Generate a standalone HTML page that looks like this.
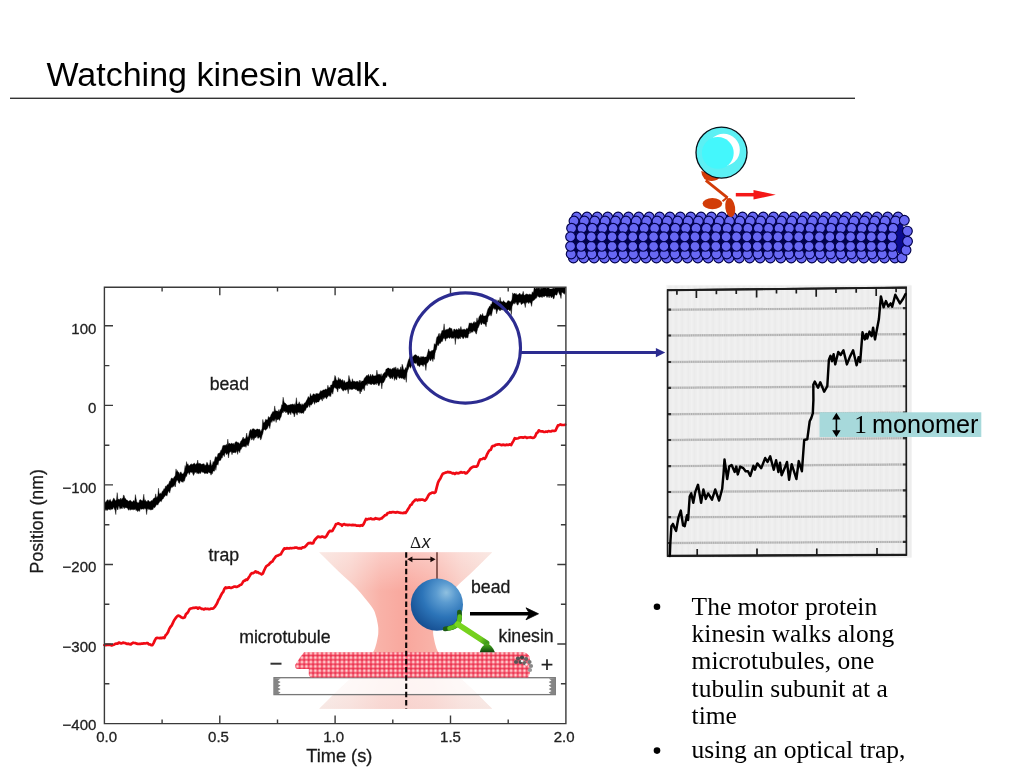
<!DOCTYPE html>
<html><head><meta charset="utf-8"><title>Watching kinesin walk.</title>
<style>
html,body{margin:0;padding:0;background:#fff;width:1024px;height:768px;overflow:hidden}
svg{position:absolute;left:0;top:0;display:block;will-change:transform;transform:translateZ(0)}
text{font-family:"Liberation Sans",sans-serif}
.ser{font-family:"Liberation Serif",serif}
.ax{font-size:15px;fill:#222;stroke:#222;stroke-width:0.3px}
.lb{font-size:17.7px;fill:#1a1a1a;stroke:#1a1a1a;stroke-width:0.3px}
</style></head><body>
<svg width="1024" height="768" viewBox="0 0 1024 768">
<defs>
<clipPath id="plot"><rect x="104.4" y="287.3" width="461.6" height="436.4"/></clipPath>
</defs>
<text x="46.5" y="86" font-size="34" fill="#000">Watching kinesin walk.</text>
<rect x="10" y="97.6" width="845" height="1.4" fill="#333"/>
<g id="chart">
<defs>
<linearGradient id="trapH" x1="319" x2="493.4" y1="0" y2="0" gradientUnits="userSpaceOnUse">
<stop offset="0" stop-color="#f7ddd6"/><stop offset="0.18" stop-color="#f9cdc5"/><stop offset="0.35" stop-color="#f9b2a8"/><stop offset="0.5" stop-color="#f9a79d"/><stop offset="0.65" stop-color="#f9b2a8"/><stop offset="0.82" stop-color="#f9cdc5"/><stop offset="1" stop-color="#f7ddd6"/></linearGradient>
<linearGradient id="trapV" x1="0" x2="0" y1="552" y2="709" gradientUnits="userSpaceOnUse">
<stop offset="0" stop-color="#fff" stop-opacity="0.35"/><stop offset="0.25" stop-color="#fff" stop-opacity="0"/><stop offset="0.75" stop-color="#fff" stop-opacity="0"/><stop offset="0.8" stop-color="#fff" stop-opacity="0.55"/><stop offset="1" stop-color="#f6eeec" stop-opacity="0.62"/></linearGradient>
<radialGradient id="beadG" cx="0.66" cy="0.3" r="0.75" fx="0.68" fy="0.27">
<stop offset="0" stop-color="#8fc0e0"/><stop offset="0.25" stop-color="#5b9bd0"/><stop offset="0.6" stop-color="#2c74b8"/><stop offset="1" stop-color="#164f92"/></radialGradient>
<radialGradient id="mtb" cx="0.5" cy="0.42" r="0.6">
<stop offset="0" stop-color="#fff4f2"/><stop offset="0.3" stop-color="#fdb9bd"/><stop offset="0.7" stop-color="#f4566c"/><stop offset="1" stop-color="#e8304e"/></radialGradient>
<pattern id="mtp" x="295.3" y="651.6" width="4.45" height="4.35" patternUnits="userSpaceOnUse">
<rect width="4.45" height="4.35" fill="#e8304e"/><circle cx="2.22" cy="2.1" r="2.35" fill="url(#mtb)"/></pattern>
<pattern id="mtp2" x="297.5" y="651.6" width="4.45" height="4.35" patternUnits="userSpaceOnUse">
<rect width="4.45" height="4.35" fill="#ec3a55"/><circle cx="2.22" cy="2.1" r="2.3" fill="url(#mtb)"/></pattern>
<linearGradient id="kin" x1="458" y1="624" x2="486" y2="643" gradientUnits="userSpaceOnUse"><stop offset="0" stop-color="#7ad61e"/><stop offset="0.8" stop-color="#72ce1e"/><stop offset="1" stop-color="#3f9a1a"/></linearGradient>
<linearGradient id="foot" x1="0" x2="0" y1="643" y2="652.4" gradientUnits="userSpaceOnUse"><stop offset="0" stop-color="#55b51c"/><stop offset="0.5" stop-color="#2e8418"/><stop offset="1" stop-color="#0f3d0c"/></linearGradient>
</defs>
<path d="M319.2,552.2 L321.2,554.2 L323.3,556.2 L325.3,558.2 L327.3,560.2 L329.3,562.2 L331.3,564.2 L333.3,566.2 L335.4,568.2 L337.4,570.2 L339.5,572.2 L341.6,574.2 L343.8,576.2 L346.0,578.2 L348.2,580.2 L350.4,582.2 L352.5,584.2 L354.5,586.2 L356.4,588.2 L358.2,590.2 L360.0,592.2 L361.7,594.2 L363.3,596.2 L364.9,598.2 L366.6,600.2 L368.2,602.2 L369.8,604.2 L371.3,606.2 L372.7,608.2 L373.9,610.2 L374.8,612.2 L375.4,614.2 L376.0,616.2 L376.6,618.2 L377.0,620.2 L377.4,622.2 L377.8,624.2 L378.1,626.2 L378.3,628.2 L378.3,630.2 L378.3,632.2 L378.2,634.2 L377.9,636.2 L377.5,638.2 L377.1,640.2 L376.7,642.2 L376.2,644.2 L375.6,646.2 L375.0,648.2 L374.2,650.2 L373.1,652.2 L371.7,654.2 L370.3,656.2 L368.7,658.2 L367.0,660.2 L365.4,662.2 L363.8,664.2 L362.2,666.2 L360.5,668.2 L358.8,670.2 L357.0,672.2 L355.1,674.2 L353.1,676.2 L351.0,678.2 L348.9,680.2 L346.7,682.2 L344.5,684.2 L342.3,686.2 L340.1,688.2 L338.1,690.2 L336.0,692.2 L334.0,694.2 L331.9,696.2 L329.9,698.2 L327.9,700.2 L325.9,702.2 L323.9,704.2 L321.8,706.2 L319.8,708.2 L319.2,708.8 L492.2,708.8 L491.6,708.2 L489.6,706.2 L487.5,704.2 L485.5,702.2 L483.5,700.2 L481.5,698.2 L479.5,696.2 L477.4,694.2 L475.4,692.2 L473.3,690.2 L471.3,688.2 L469.1,686.2 L466.9,684.2 L464.7,682.2 L462.5,680.2 L460.4,678.2 L458.3,676.2 L456.3,674.2 L454.4,672.2 L452.6,670.2 L450.9,668.2 L449.2,666.2 L447.6,664.2 L446.0,662.2 L444.4,660.2 L442.7,658.2 L441.1,656.2 L439.7,654.2 L438.3,652.2 L437.2,650.2 L436.4,648.2 L435.8,646.2 L435.2,644.2 L434.7,642.2 L434.3,640.2 L433.9,638.2 L433.5,636.2 L433.2,634.2 L433.1,632.2 L433.1,630.2 L433.1,628.2 L433.3,626.2 L433.6,624.2 L434.0,622.2 L434.4,620.2 L434.8,618.2 L435.4,616.2 L436.0,614.2 L436.6,612.2 L437.5,610.2 L438.7,608.2 L440.1,606.2 L441.6,604.2 L443.2,602.2 L444.8,600.2 L446.5,598.2 L448.1,596.2 L449.7,594.2 L451.4,592.2 L453.2,590.2 L455.0,588.2 L456.9,586.2 L458.9,584.2 L461.0,582.2 L463.2,580.2 L465.4,578.2 L467.6,576.2 L469.8,574.2 L471.9,572.2 L474.0,570.2 L476.0,568.2 L478.1,566.2 L480.1,564.2 L482.1,562.2 L484.1,560.2 L486.1,558.2 L488.1,556.2 L490.2,554.2 L492.2,552.2Z" fill="url(#trapH)"/><path d="M319.2,552.2 L321.2,554.2 L323.3,556.2 L325.3,558.2 L327.3,560.2 L329.3,562.2 L331.3,564.2 L333.3,566.2 L335.4,568.2 L337.4,570.2 L339.5,572.2 L341.6,574.2 L343.8,576.2 L346.0,578.2 L348.2,580.2 L350.4,582.2 L352.5,584.2 L354.5,586.2 L356.4,588.2 L358.2,590.2 L360.0,592.2 L361.7,594.2 L363.3,596.2 L364.9,598.2 L366.6,600.2 L368.2,602.2 L369.8,604.2 L371.3,606.2 L372.7,608.2 L373.9,610.2 L374.8,612.2 L375.4,614.2 L376.0,616.2 L376.6,618.2 L377.0,620.2 L377.4,622.2 L377.8,624.2 L378.1,626.2 L378.3,628.2 L378.3,630.2 L378.3,632.2 L378.2,634.2 L377.9,636.2 L377.5,638.2 L377.1,640.2 L376.7,642.2 L376.2,644.2 L375.6,646.2 L375.0,648.2 L374.2,650.2 L373.1,652.2 L371.7,654.2 L370.3,656.2 L368.7,658.2 L367.0,660.2 L365.4,662.2 L363.8,664.2 L362.2,666.2 L360.5,668.2 L358.8,670.2 L357.0,672.2 L355.1,674.2 L353.1,676.2 L351.0,678.2 L348.9,680.2 L346.7,682.2 L344.5,684.2 L342.3,686.2 L340.1,688.2 L338.1,690.2 L336.0,692.2 L334.0,694.2 L331.9,696.2 L329.9,698.2 L327.9,700.2 L325.9,702.2 L323.9,704.2 L321.8,706.2 L319.8,708.2 L319.2,708.8 L492.2,708.8 L491.6,708.2 L489.6,706.2 L487.5,704.2 L485.5,702.2 L483.5,700.2 L481.5,698.2 L479.5,696.2 L477.4,694.2 L475.4,692.2 L473.3,690.2 L471.3,688.2 L469.1,686.2 L466.9,684.2 L464.7,682.2 L462.5,680.2 L460.4,678.2 L458.3,676.2 L456.3,674.2 L454.4,672.2 L452.6,670.2 L450.9,668.2 L449.2,666.2 L447.6,664.2 L446.0,662.2 L444.4,660.2 L442.7,658.2 L441.1,656.2 L439.7,654.2 L438.3,652.2 L437.2,650.2 L436.4,648.2 L435.8,646.2 L435.2,644.2 L434.7,642.2 L434.3,640.2 L433.9,638.2 L433.5,636.2 L433.2,634.2 L433.1,632.2 L433.1,630.2 L433.1,628.2 L433.3,626.2 L433.6,624.2 L434.0,622.2 L434.4,620.2 L434.8,618.2 L435.4,616.2 L436.0,614.2 L436.6,612.2 L437.5,610.2 L438.7,608.2 L440.1,606.2 L441.6,604.2 L443.2,602.2 L444.8,600.2 L446.5,598.2 L448.1,596.2 L449.7,594.2 L451.4,592.2 L453.2,590.2 L455.0,588.2 L456.9,586.2 L458.9,584.2 L461.0,582.2 L463.2,580.2 L465.4,578.2 L467.6,576.2 L469.8,574.2 L471.9,572.2 L474.0,570.2 L476.0,568.2 L478.1,566.2 L480.1,564.2 L482.1,562.2 L484.1,560.2 L486.1,558.2 L488.1,556.2 L490.2,554.2 L492.2,552.2Z" fill="url(#trapV)"/>
<rect x="274" y="677.7" width="281.3" height="16.9" fill="#fff" fill-opacity="0.72" stroke="#777" stroke-width="1.3"/>
<path d="M274,678 L280.6,678.6 L277.8,680.4 L280.6,682.1 L277.8,683.9 L280.6,685.6 L277.8,687.4 L280.6,689.1 L277.8,690.9 L280.6,692.6 L277.8,694.4 L274,694.4Z M555.3,678 L548.7,678.6 L551.5,680.4 L548.7,682.1 L551.5,683.9 L548.7,685.6 L551.5,687.4 L548.7,689.1 L551.5,690.9 L548.7,692.6 L551.5,694.4 L555.3,694.4Z" fill="#858585"/>
<g><path d="M304,652.2 H524 q4,1 6,5 v8.4 q1,8 -2,12 H311 q-2.5,-1 -2.2,-4 V669 H297 q-2.6,-1 -1.6,-4.5 L300,657.4 Z" fill="url(#mtp)"/></g>
<circle cx="518" cy="658.5" r="2.1" fill="#555"/><circle cx="522" cy="657.5" r="2.1" fill="#444"/><circle cx="526" cy="659" r="2.1" fill="#666"/><circle cx="529.5" cy="662" r="2.1" fill="#777"/><circle cx="531" cy="666" r="2.1" fill="#888"/><circle cx="530" cy="670" r="2.1" fill="#999"/><circle cx="520.5" cy="662" r="2.1" fill="#4a4a4a"/><circle cx="524.5" cy="663" r="2.1" fill="#666"/><circle cx="516" cy="662" r="2.1" fill="#555"/><circle cx="522" cy="661" r="1.3" fill="#e8e8e8"/><circle cx="526.5" cy="664.5" r="1.2" fill="#f2f2f2"/>
<path d="M406.2,552.3 V708.6" stroke="#0a0505" stroke-width="2.1" stroke-dasharray="5.5 2.7" fill="none"/>
<path d="M437,552.3 V579" stroke="#6b3b35" stroke-width="1.5" fill="none"/>
<path d="M409,559.3 H433.5" stroke="#2a1210" stroke-width="1.3" fill="none"/><path d="M407.2,559.3 l5.2,-2.9 v5.8z M435.6,559.3 l-5.2,-2.9 v5.8z" fill="#1a0a08"/>
<text x="409.9" y="548.4" font-size="17.4" fill="#1a1a1a"><tspan class="ser">Δ</tspan><tspan dx="0.6" font-style="italic" font-size="17.6">x</tspan></text>
<circle cx="436.9" cy="604.6" r="26.1" fill="url(#beadG)"/>
<path d="M445.2,628.9 Q454,628 457.9,623.8 Q460.3,619 459.4,612.2" fill="none" stroke="#1c5a14" stroke-width="4.8" stroke-linecap="round"/><path d="M449.5,628.2 Q455,627 457.9,623.8 Q459.8,620 459.7,616.5" fill="none" stroke="#5cc01c" stroke-width="4.6" stroke-linecap="round"/><path d="M457.6,624.2 L486.6,643.2" stroke="url(#kin)" stroke-width="5.6" stroke-linecap="round" fill="none"/><path d="M479.8,652.3 Q481,645.5 487.2,643.2 Q492.5,645.5 494.9,652.3 Z" fill="url(#foot)"/>
<path d="M470,613.8 H531" stroke="#000" stroke-width="3.6" fill="none"/><path d="M538.5,613.8 L526,607.8 L529.6,613.8 L526,619.8Z" fill="#000" stroke="#000" stroke-width="0.8" stroke-linejoin="round"/>
<path d="M270.5,663.7 H281.5" stroke="#333" stroke-width="2"/><path d="M541.6,664.7 H552.4 M547,659.3 V670.1" stroke="#222" stroke-width="1.7"/>
<text class="lb" x="239.2" y="643.3">microtubule</text><text class="lb" x="471" y="592.8">bead</text><text class="lb" x="498.6" y="642">kinesin</text>
<g clip-path="url(#plot)"><path d="M104.6,500.6 L105.3,502.6 L106.0,501.7 L106.7,500.7 L107.4,499.8 L108.1,499.7 L108.8,501.4 L109.5,499.9 L110.2,499.3 L110.9,500.9 L111.6,501.9 L112.3,500.9 L113.0,499.4 L113.7,498.0 L114.4,498.7 L115.1,500.4 L115.8,500.7 L116.5,499.4 L117.2,492.6 L117.9,499.8 L118.6,499.1 L119.3,499.2 L120.0,499.7 L120.7,498.1 L121.4,500.0 L122.1,497.9 L122.8,498.9 L123.5,494.9 L124.2,495.7 L124.9,498.6 L125.6,498.6 L126.3,500.0 L127.0,500.1 L127.7,500.5 L128.4,501.2 L129.1,500.9 L129.8,500.4 L130.5,500.3 L131.2,501.2 L131.9,501.7 L132.6,502.0 L133.3,500.8 L134.0,500.4 L134.7,501.8 L135.4,494.6 L136.1,498.7 L136.8,501.9 L137.5,502.8 L138.2,502.4 L138.9,503.1 L139.6,499.9 L140.3,499.7 L141.0,499.8 L141.7,500.8 L142.4,501.0 L143.1,499.3 L143.8,494.2 L144.5,500.9 L145.2,499.7 L145.9,501.3 L146.6,501.6 L147.3,501.4 L148.0,500.1 L148.7,500.7 L149.4,501.4 L150.1,502.1 L150.8,500.9 L151.5,500.6 L152.2,500.8 L152.9,499.6 L153.6,498.5 L154.3,497.8 L155.0,498.2 L155.7,493.8 L156.4,497.4 L157.1,497.2 L157.8,495.8 L158.5,488.2 L159.2,494.2 L159.9,493.4 L160.6,493.2 L161.3,493.7 L162.0,491.9 L162.7,490.8 L163.4,490.2 L164.1,488.4 L164.8,489.3 L165.5,486.0 L166.2,486.6 L166.9,485.4 L167.6,484.5 L168.3,484.4 L169.0,483.1 L169.7,480.9 L170.4,481.2 L171.1,478.5 L171.8,478.0 L172.5,478.4 L173.2,478.4 L173.9,477.4 L174.6,476.6 L175.3,475.3 L176.0,468.9 L176.7,471.8 L177.4,470.5 L178.1,472.6 L178.8,472.1 L179.5,474.4 L180.2,472.5 L180.9,471.8 L181.6,473.2 L182.3,474.1 L183.0,473.8 L183.7,473.1 L184.4,471.1 L185.1,465.5 L185.8,468.3 L186.5,461.6 L187.2,464.6 L187.9,463.7 L188.6,465.4 L189.3,465.7 L190.0,464.9 L190.7,464.3 L191.4,463.7 L192.1,464.9 L192.8,464.0 L193.5,463.8 L194.2,463.2 L194.9,463.4 L195.6,464.9 L196.3,463.6 L197.0,463.9 L197.7,460.0 L198.4,464.1 L199.1,463.1 L199.8,463.7 L200.5,463.5 L201.2,464.3 L201.9,464.3 L202.6,464.0 L203.3,464.0 L204.0,463.6 L204.7,465.3 L205.4,465.2 L206.1,464.9 L206.8,462.2 L207.5,462.8 L208.2,465.1 L208.9,465.2 L209.6,465.0 L210.3,459.9 L211.0,463.4 L211.7,466.0 L212.4,464.6 L213.1,461.4 L213.8,462.4 L214.5,460.2 L215.2,457.2 L215.9,456.4 L216.6,457.4 L217.3,456.4 L218.0,453.4 L218.7,453.6 L219.4,452.9 L220.1,452.5 L220.8,450.3 L221.5,450.3 L222.2,448.0 L222.9,445.6 L223.6,445.4 L224.3,445.3 L225.0,445.2 L225.7,445.2 L226.4,444.3 L227.1,445.8 L227.8,439.1 L228.5,444.6 L229.2,443.0 L229.9,443.8 L230.6,444.1 L231.3,443.2 L232.0,443.2 L232.7,444.1 L233.4,443.3 L234.1,444.8 L234.8,443.1 L235.5,441.9 L236.2,441.4 L236.9,442.1 L237.6,442.4 L238.3,442.4 L239.0,443.3 L239.7,444.0 L240.4,441.9 L241.1,440.7 L241.8,440.2 L242.5,438.6 L243.2,437.0 L243.9,438.9 L244.6,438.7 L245.3,438.7 L246.0,437.1 L246.7,433.0 L247.4,437.2 L248.1,437.2 L248.8,435.3 L249.5,431.5 L250.2,430.0 L250.9,429.3 L251.6,430.9 L252.3,428.8 L253.0,429.2 L253.7,428.5 L254.4,429.3 L255.1,429.7 L255.8,429.9 L256.5,429.3 L257.2,428.9 L257.9,429.1 L258.6,429.5 L259.3,429.3 L260.0,429.6 L260.7,431.7 L261.4,430.6 L262.1,428.3 L262.8,419.4 L263.5,422.9 L264.2,422.6 L264.9,421.7 L265.6,419.3 L266.3,419.8 L267.0,419.8 L267.7,419.7 L268.4,416.4 L269.1,417.6 L269.8,417.5 L270.5,416.2 L271.2,414.2 L271.9,413.6 L272.6,411.7 L273.3,411.6 L274.0,411.9 L274.7,405.9 L275.4,410.2 L276.1,410.9 L276.8,411.0 L277.5,411.0 L278.2,411.7 L278.9,409.5 L279.6,412.0 L280.3,409.2 L281.0,408.4 L281.7,404.7 L282.4,404.7 L283.1,397.2 L283.8,401.0 L284.5,403.1 L285.2,403.1 L285.9,403.8 L286.6,404.5 L287.3,405.2 L288.0,405.2 L288.7,405.0 L289.4,405.0 L290.1,404.4 L290.8,404.5 L291.5,404.6 L292.2,404.1 L292.9,404.2 L293.6,404.7 L294.3,403.7 L295.0,405.4 L295.7,403.4 L296.4,397.7 L297.1,404.0 L297.8,404.1 L298.5,403.8 L299.2,401.7 L299.9,403.7 L300.6,404.1 L301.3,405.5 L302.0,403.6 L302.7,404.8 L303.4,404.7 L304.1,403.4 L304.8,402.7 L305.5,402.5 L306.2,401.1 L306.9,399.8 L307.6,398.3 L308.3,396.4 L309.0,397.4 L309.7,398.0 L310.4,393.5 L311.1,395.7 L311.8,396.1 L312.5,395.2 L313.2,393.8 L313.9,394.0 L314.6,394.3 L315.3,394.9 L316.0,393.3 L316.7,393.7 L317.4,393.4 L318.1,394.1 L318.8,393.7 L319.5,392.9 L320.2,391.4 L320.9,390.4 L321.6,391.3 L322.3,390.9 L323.0,389.7 L323.7,390.1 L324.4,390.0 L325.1,389.3 L325.8,388.9 L326.5,389.4 L327.2,389.0 L327.9,385.2 L328.6,388.3 L329.3,386.9 L330.0,388.2 L330.7,385.1 L331.4,385.1 L332.1,384.4 L332.8,381.2 L333.5,381.1 L334.2,380.2 L334.9,375.4 L335.6,376.7 L336.3,380.2 L337.0,379.9 L337.7,381.0 L338.4,377.4 L339.1,380.2 L339.8,378.6 L340.5,379.1 L341.2,380.8 L341.9,380.1 L342.6,379.6 L343.3,382.4 L344.0,380.3 L344.7,381.1 L345.4,382.9 L346.1,382.2 L346.8,381.9 L347.5,382.1 L348.2,380.9 L348.9,375.4 L349.6,378.4 L350.3,380.6 L351.0,382.1 L351.7,381.9 L352.4,378.7 L353.1,381.3 L353.8,381.3 L354.5,381.3 L355.2,381.4 L355.9,382.1 L356.6,381.3 L357.3,381.4 L358.0,381.3 L358.7,382.8 L359.4,380.1 L360.1,383.1 L360.8,380.4 L361.5,382.0 L362.2,381.1 L362.9,381.0 L363.6,380.2 L364.3,378.3 L365.0,377.5 L365.7,376.8 L366.4,375.8 L367.1,375.1 L367.8,376.2 L368.5,374.2 L369.2,376.3 L369.9,376.5 L370.6,374.1 L371.3,376.4 L372.0,375.4 L372.7,374.3 L373.4,376.0 L374.1,376.1 L374.8,375.8 L375.5,375.7 L376.2,375.5 L376.9,370.1 L377.6,374.8 L378.3,373.9 L379.0,375.0 L379.7,373.9 L380.4,375.4 L381.1,373.6 L381.8,376.4 L382.5,375.3 L383.2,373.7 L383.9,373.5 L384.6,372.2 L385.3,372.2 L386.0,369.1 L386.7,369.1 L387.4,368.2 L388.1,367.9 L388.8,368.1 L389.5,369.0 L390.2,368.6 L390.9,369.2 L391.6,369.5 L392.3,368.2 L393.0,369.0 L393.7,367.7 L394.4,367.6 L395.1,368.9 L395.8,366.8 L396.5,369.4 L397.2,369.5 L397.9,367.8 L398.6,369.7 L399.3,369.5 L400.0,370.1 L400.7,366.8 L401.4,370.2 L402.1,364.2 L402.8,366.1 L403.5,369.3 L404.2,370.1 L404.9,369.3 L405.6,367.5 L406.3,368.5 L407.0,364.8 L407.7,362.5 L408.4,360.0 L409.1,358.7 L409.8,356.5 L410.5,353.6 L411.2,358.3 L411.9,356.5 L412.6,357.2 L413.3,356.3 L414.0,355.4 L414.7,355.0 L415.4,354.7 L416.1,354.8 L416.8,355.5 L417.5,356.6 L418.2,355.8 L418.9,356.6 L419.6,357.4 L420.3,357.8 L421.0,356.2 L421.7,357.2 L422.4,356.9 L423.1,356.3 L423.8,357.1 L424.5,357.2 L425.2,357.0 L425.9,357.1 L426.6,356.7 L427.3,354.2 L428.0,351.6 L428.7,348.9 L429.4,351.5 L430.1,351.0 L430.8,351.9 L431.5,350.6 L432.2,350.7 L432.9,350.1 L433.6,349.6 L434.3,343.6 L435.0,344.8 L435.7,343.7 L436.4,338.9 L437.1,336.5 L437.8,337.0 L438.5,334.3 L439.2,333.2 L439.9,336.4 L440.6,333.7 L441.3,333.1 L442.0,330.3 L442.7,330.7 L443.4,330.1 L444.1,323.8 L444.8,330.5 L445.5,329.9 L446.2,329.4 L446.9,329.6 L447.6,329.2 L448.3,329.3 L449.0,328.2 L449.7,327.6 L450.4,327.9 L451.1,328.7 L451.8,328.4 L452.5,331.2 L453.2,331.4 L453.9,329.0 L454.6,329.0 L455.3,330.3 L456.0,329.4 L456.7,329.0 L457.4,329.7 L458.1,330.1 L458.8,328.2 L459.5,329.3 L460.2,329.4 L460.9,326.5 L461.6,329.7 L462.3,329.3 L463.0,330.2 L463.7,329.1 L464.4,329.2 L465.1,329.4 L465.8,330.1 L466.5,328.3 L467.2,328.8 L467.9,328.6 L468.6,326.2 L469.3,322.8 L470.0,323.6 L470.7,323.1 L471.4,322.8 L472.1,323.7 L472.8,323.6 L473.5,322.3 L474.2,321.4 L474.9,323.2 L475.6,322.1 L476.3,322.2 L477.0,317.8 L477.7,321.3 L478.4,319.5 L479.1,316.5 L479.8,316.0 L480.5,314.2 L481.2,314.9 L481.9,315.8 L482.6,313.4 L483.3,316.0 L484.0,316.0 L484.7,315.9 L485.4,315.8 L486.1,315.5 L486.8,312.9 L487.5,310.3 L488.2,308.5 L488.9,307.6 L489.6,306.1 L490.3,306.4 L491.0,303.8 L491.7,304.7 L492.4,301.0 L493.1,300.4 L493.8,300.3 L494.5,300.8 L495.2,301.9 L495.9,299.5 L496.6,302.1 L497.3,302.4 L498.0,299.8 L498.7,300.9 L499.4,302.2 L500.1,297.3 L500.8,301.3 L501.5,301.5 L502.2,301.9 L502.9,301.8 L503.6,300.6 L504.3,302.1 L505.0,302.1 L505.7,302.9 L506.4,303.0 L507.1,302.1 L507.8,300.7 L508.5,300.7 L509.2,301.0 L509.9,301.4 L510.6,301.8 L511.3,301.1 L512.0,299.3 L512.7,292.8 L513.4,294.3 L514.1,293.8 L514.8,293.1 L515.5,294.3 L516.2,293.4 L516.9,295.0 L517.6,294.8 L518.3,294.5 L519.0,294.0 L519.7,293.1 L520.4,294.2 L521.1,294.8 L521.8,294.4 L522.5,294.1 L523.2,291.3 L523.9,294.7 L524.6,295.3 L525.3,294.9 L526.0,293.7 L526.7,294.2 L527.4,294.0 L528.1,294.8 L528.8,294.5 L529.5,294.1 L530.2,294.7 L530.9,293.9 L531.6,294.9 L532.3,291.7 L533.0,292.9 L533.7,291.0 L534.4,285.6 L535.1,288.5 L535.8,288.7 L536.5,288.0 L537.2,288.0 L537.9,288.6 L538.6,287.7 L539.3,285.9 L540.0,289.9 L540.7,287.9 L541.4,288.5 L542.1,286.7 L542.8,288.8 L543.5,287.2 L544.2,287.4 L544.9,283.9 L545.6,286.3 L546.3,289.0 L547.0,287.5 L547.7,287.6 L548.4,285.6 L549.1,288.3 L549.8,289.0 L550.5,288.9 L551.2,289.1 L551.9,288.7 L552.6,288.9 L553.3,286.3 L554.0,289.2 L554.7,287.7 L555.4,285.1 L556.1,286.9 L556.8,284.8 L557.5,284.5 L558.2,283.8 L558.9,284.5 L559.6,282.8 L560.3,282.2 L561.0,284.6 L561.7,283.8 L562.4,284.9 L563.1,279.4 L563.8,284.4 L564.5,286.4 L565.2,284.7 L565.2,292.1 L564.5,294.3 L563.8,293.8 L563.1,292.7 L562.4,292.4 L561.7,292.5 L561.0,298.6 L560.3,295.6 L559.6,294.4 L558.9,292.9 L558.2,291.1 L557.5,293.2 L556.8,295.2 L556.1,295.1 L555.4,294.4 L554.7,295.8 L554.0,298.7 L553.3,298.8 L552.6,296.5 L551.9,296.9 L551.2,297.9 L550.5,296.1 L549.8,295.9 L549.1,297.9 L548.4,295.9 L547.7,296.5 L547.0,297.6 L546.3,296.1 L545.6,295.7 L544.9,296.3 L544.2,296.8 L543.5,296.6 L542.8,296.2 L542.1,297.7 L541.4,296.8 L540.7,297.1 L540.0,296.7 L539.3,297.6 L538.6,296.5 L537.9,296.8 L537.2,295.5 L536.5,298.2 L535.8,298.0 L535.1,299.3 L534.4,299.8 L533.7,300.6 L533.0,300.6 L532.3,301.8 L531.6,306.4 L530.9,303.4 L530.2,302.4 L529.5,302.1 L528.8,303.7 L528.1,302.4 L527.4,301.9 L526.7,303.3 L526.0,301.8 L525.3,307.6 L524.6,304.3 L523.9,302.8 L523.2,303.2 L522.5,303.5 L521.8,304.4 L521.1,304.3 L520.4,302.0 L519.7,302.4 L519.0,302.1 L518.3,304.5 L517.6,305.2 L516.9,304.3 L516.2,302.3 L515.5,302.5 L514.8,304.2 L514.1,302.4 L513.4,303.7 L512.7,304.7 L512.0,306.7 L511.3,314.7 L510.6,309.5 L509.9,311.0 L509.2,310.2 L508.5,309.4 L507.8,310.1 L507.1,310.6 L506.4,313.3 L505.7,312.3 L505.0,310.9 L504.3,310.5 L503.6,309.7 L502.9,310.0 L502.2,309.8 L501.5,309.7 L500.8,309.4 L500.1,311.0 L499.4,310.1 L498.7,309.2 L498.0,309.2 L497.3,311.2 L496.6,313.8 L495.9,308.8 L495.2,309.5 L494.5,309.3 L493.8,307.8 L493.1,309.1 L492.4,310.9 L491.7,314.5 L491.0,316.2 L490.3,314.0 L489.6,315.0 L488.9,316.2 L488.2,316.3 L487.5,321.8 L486.8,322.1 L486.1,326.8 L485.4,324.9 L484.7,323.8 L484.0,324.3 L483.3,323.7 L482.6,322.6 L481.9,324.0 L481.2,325.0 L480.5,322.2 L479.8,324.1 L479.1,325.7 L478.4,327.5 L477.7,328.5 L477.0,331.4 L476.3,334.2 L475.6,333.0 L474.9,330.8 L474.2,331.4 L473.5,330.2 L472.8,332.4 L472.1,331.4 L471.4,332.3 L470.7,333.3 L470.0,330.6 L469.3,333.7 L468.6,334.1 L467.9,338.1 L467.2,337.6 L466.5,337.5 L465.8,338.3 L465.1,337.2 L464.4,336.6 L463.7,338.3 L463.0,338.8 L462.3,337.6 L461.6,337.0 L460.9,336.5 L460.2,338.9 L459.5,337.7 L458.8,338.5 L458.1,339.3 L457.4,338.0 L456.7,338.5 L456.0,337.2 L455.3,344.6 L454.6,336.8 L453.9,337.8 L453.2,338.6 L452.5,337.9 L451.8,338.6 L451.1,337.6 L450.4,337.0 L449.7,338.6 L449.0,337.9 L448.3,337.3 L447.6,338.3 L446.9,338.4 L446.2,338.2 L445.5,341.2 L444.8,337.6 L444.1,339.1 L443.4,337.8 L442.7,340.5 L442.0,341.9 L441.3,341.1 L440.6,343.2 L439.9,343.7 L439.2,343.0 L438.5,345.7 L437.8,344.6 L437.1,345.9 L436.4,349.6 L435.7,350.8 L435.0,353.4 L434.3,359.4 L433.6,357.8 L432.9,361.6 L432.2,358.9 L431.5,358.8 L430.8,360.7 L430.1,360.6 L429.4,358.4 L428.7,361.1 L428.0,362.2 L427.3,363.3 L426.6,363.8 L425.9,370.5 L425.2,365.8 L424.5,364.2 L423.8,364.4 L423.1,366.5 L422.4,365.0 L421.7,365.0 L421.0,364.7 L420.3,364.9 L419.6,366.8 L418.9,366.3 L418.2,365.2 L417.5,365.7 L416.8,363.7 L416.1,362.6 L415.4,363.7 L414.7,363.2 L414.0,362.8 L413.3,364.3 L412.6,365.5 L411.9,365.5 L411.2,366.3 L410.5,368.3 L409.8,366.4 L409.1,366.8 L408.4,369.0 L407.7,370.4 L407.0,373.1 L406.3,382.4 L405.6,376.6 L404.9,380.1 L404.2,377.9 L403.5,379.3 L402.8,377.8 L402.1,378.5 L401.4,378.3 L400.7,377.5 L400.0,378.4 L399.3,378.2 L398.6,377.4 L397.9,375.8 L397.2,377.8 L396.5,380.1 L395.8,378.9 L395.1,378.1 L394.4,380.5 L393.7,376.0 L393.0,377.5 L392.3,379.2 L391.6,377.5 L390.9,377.7 L390.2,378.9 L389.5,377.2 L388.8,376.7 L388.1,375.6 L387.4,375.8 L386.7,377.7 L386.0,376.9 L385.3,379.1 L384.6,380.8 L383.9,382.0 L383.2,383.0 L382.5,382.7 L381.8,388.9 L381.1,382.9 L380.4,382.5 L379.7,383.9 L379.0,386.1 L378.3,385.3 L377.6,383.0 L376.9,383.1 L376.2,384.8 L375.5,383.4 L374.8,384.6 L374.1,384.4 L373.4,384.5 L372.7,383.9 L372.0,383.4 L371.3,384.9 L370.6,384.2 L369.9,384.2 L369.2,383.6 L368.5,384.1 L367.8,383.3 L367.1,385.8 L366.4,384.1 L365.7,384.9 L365.0,385.9 L364.3,390.8 L363.6,388.2 L362.9,389.4 L362.2,388.6 L361.5,391.8 L360.8,391.0 L360.1,394.0 L359.4,390.5 L358.7,391.1 L358.0,390.5 L357.3,390.9 L356.6,388.9 L355.9,390.0 L355.2,388.8 L354.5,388.9 L353.8,388.8 L353.1,389.1 L352.4,389.5 L351.7,389.8 L351.0,389.0 L350.3,389.3 L349.6,389.5 L348.9,388.3 L348.2,393.8 L347.5,389.4 L346.8,389.3 L346.1,390.2 L345.4,390.2 L344.7,389.8 L344.0,390.0 L343.3,391.2 L342.6,390.5 L341.9,389.2 L341.2,388.8 L340.5,387.3 L339.8,388.9 L339.1,388.0 L338.4,388.2 L337.7,392.1 L337.0,389.5 L336.3,388.6 L335.6,388.3 L334.9,387.6 L334.2,387.5 L333.5,389.7 L332.8,394.2 L332.1,392.0 L331.4,392.9 L330.7,396.7 L330.0,395.3 L329.3,396.4 L328.6,395.6 L327.9,396.7 L327.2,397.2 L326.5,399.1 L325.8,397.4 L325.1,397.2 L324.4,397.8 L323.7,399.3 L323.0,397.3 L322.3,401.1 L321.6,399.5 L320.9,398.4 L320.2,399.7 L319.5,400.3 L318.8,402.0 L318.1,401.9 L317.4,401.9 L316.7,402.5 L316.0,402.8 L315.3,401.7 L314.6,404.4 L313.9,402.0 L313.2,401.8 L312.5,403.8 L311.8,404.5 L311.1,405.2 L310.4,404.4 L309.7,407.4 L309.0,404.4 L308.3,405.9 L307.6,407.4 L306.9,407.5 L306.2,408.4 L305.5,410.4 L304.8,410.4 L304.1,411.7 L303.4,413.6 L302.7,412.7 L302.0,413.2 L301.3,413.2 L300.6,412.5 L299.9,413.5 L299.2,412.1 L298.5,412.6 L297.8,412.2 L297.1,415.2 L296.4,413.4 L295.7,412.4 L295.0,414.1 L294.3,417.0 L293.6,413.6 L292.9,413.5 L292.2,412.8 L291.5,411.4 L290.8,414.8 L290.1,413.1 L289.4,412.6 L288.7,414.2 L288.0,414.9 L287.3,412.5 L286.6,411.7 L285.9,413.0 L285.2,411.3 L284.5,411.7 L283.8,410.7 L283.1,412.9 L282.4,411.9 L281.7,414.4 L281.0,417.2 L280.3,417.9 L279.6,420.5 L278.9,419.5 L278.2,418.9 L277.5,420.1 L276.8,419.3 L276.1,422.5 L275.4,418.4 L274.7,419.9 L274.0,421.6 L273.3,420.4 L272.6,420.2 L271.9,422.5 L271.2,421.1 L270.5,424.0 L269.8,428.6 L269.1,425.9 L268.4,425.5 L267.7,427.8 L267.0,428.9 L266.3,429.2 L265.6,430.4 L264.9,429.2 L264.2,429.7 L263.5,430.1 L262.8,433.8 L262.1,435.6 L261.4,438.5 L260.7,440.1 L260.0,437.6 L259.3,437.0 L258.6,438.1 L257.9,438.4 L257.2,436.3 L256.5,436.4 L255.8,438.1 L255.1,437.3 L254.4,438.8 L253.7,440.5 L253.0,437.4 L252.3,439.5 L251.6,440.0 L250.9,437.2 L250.2,438.7 L249.5,441.4 L248.8,443.9 L248.1,446.1 L247.4,444.7 L246.7,444.8 L246.0,447.4 L245.3,445.9 L244.6,446.5 L243.9,446.9 L243.2,445.9 L242.5,447.2 L241.8,447.6 L241.1,449.4 L240.4,449.6 L239.7,452.8 L239.0,450.7 L238.3,451.0 L237.6,454.4 L236.9,450.2 L236.2,452.2 L235.5,452.8 L234.8,452.7 L234.1,452.2 L233.4,453.0 L232.7,452.2 L232.0,454.8 L231.3,451.8 L230.6,451.8 L229.9,452.1 L229.2,453.4 L228.5,458.0 L227.8,452.8 L227.1,454.3 L226.4,454.6 L225.7,452.8 L225.0,453.3 L224.3,456.7 L223.6,455.0 L222.9,455.2 L222.2,458.1 L221.5,457.7 L220.8,460.0 L220.1,460.7 L219.4,460.6 L218.7,461.5 L218.0,465.3 L217.3,464.1 L216.6,465.4 L215.9,470.3 L215.2,466.9 L214.5,471.2 L213.8,471.1 L213.1,471.0 L212.4,473.7 L211.7,473.6 L211.0,475.2 L210.3,472.9 L209.6,473.0 L208.9,472.2 L208.2,472.2 L207.5,474.0 L206.8,473.1 L206.1,473.5 L205.4,473.3 L204.7,473.7 L204.0,472.7 L203.3,472.2 L202.6,472.4 L201.9,471.5 L201.2,472.0 L200.5,473.4 L199.8,473.6 L199.1,472.5 L198.4,474.1 L197.7,472.7 L197.0,473.7 L196.3,472.1 L195.6,472.4 L194.9,472.3 L194.2,474.0 L193.5,475.5 L192.8,473.8 L192.1,471.9 L191.4,472.6 L190.7,471.9 L190.0,472.8 L189.3,474.7 L188.6,472.6 L187.9,473.1 L187.2,474.1 L186.5,476.4 L185.8,476.6 L185.1,478.6 L184.4,481.2 L183.7,480.7 L183.0,482.5 L182.3,481.8 L181.6,482.0 L180.9,480.7 L180.2,481.1 L179.5,483.4 L178.8,483.1 L178.1,481.3 L177.4,480.0 L176.7,480.4 L176.0,482.2 L175.3,487.0 L174.6,484.5 L173.9,486.7 L173.2,485.7 L172.5,487.3 L171.8,487.3 L171.1,487.4 L170.4,489.9 L169.7,493.1 L169.0,490.9 L168.3,491.4 L167.6,493.4 L166.9,496.2 L166.2,495.0 L165.5,495.3 L164.8,496.4 L164.1,497.1 L163.4,498.5 L162.7,498.9 L162.0,499.7 L161.3,501.7 L160.6,501.1 L159.9,501.5 L159.2,502.6 L158.5,503.5 L157.8,505.2 L157.1,504.2 L156.4,504.9 L155.7,505.9 L155.0,507.4 L154.3,507.7 L153.6,507.3 L152.9,509.8 L152.2,509.2 L151.5,510.0 L150.8,509.5 L150.1,510.2 L149.4,508.9 L148.7,509.6 L148.0,508.6 L147.3,509.5 L146.6,514.6 L145.9,508.3 L145.2,509.2 L144.5,508.1 L143.8,509.5 L143.1,508.8 L142.4,509.0 L141.7,509.0 L141.0,509.6 L140.3,508.6 L139.6,511.5 L138.9,510.2 L138.2,511.3 L137.5,511.6 L136.8,509.8 L136.1,510.7 L135.4,508.8 L134.7,509.8 L134.0,508.9 L133.3,510.1 L132.6,509.6 L131.9,509.5 L131.2,509.4 L130.5,510.3 L129.8,508.5 L129.1,510.2 L128.4,510.1 L127.7,508.6 L127.0,508.1 L126.3,507.7 L125.6,507.7 L124.9,507.6 L124.2,508.8 L123.5,507.5 L122.8,506.4 L122.1,508.9 L121.4,508.1 L120.7,508.1 L120.0,509.3 L119.3,506.8 L118.6,506.1 L117.9,510.0 L117.2,508.9 L116.5,507.1 L115.8,514.6 L115.1,510.0 L114.4,509.3 L113.7,506.7 L113.0,508.7 L112.3,509.2 L111.6,509.5 L110.9,508.4 L110.2,510.2 L109.5,509.4 L108.8,509.3 L108.1,509.2 L107.4,510.5 L106.7,509.4 L106.0,510.7 L105.3,509.5 L104.6,510.1Z" fill="#000" stroke="#000" stroke-width="0.4" stroke-linejoin="bevel"/></g>
<path d="M104.4,645.0 L105.6,645.2 L106.8,644.9 L108.0,644.9 L109.2,644.9 L110.4,644.9 L111.6,645.5 L112.8,645.0 L114.0,644.7 L115.2,643.9 L116.4,643.7 L117.6,643.6 L118.8,642.7 L120.0,642.9 L121.2,643.4 L122.4,642.9 L123.6,642.7 L124.8,643.0 L126.0,643.4 L127.2,643.9 L128.4,643.7 L129.6,644.2 L130.8,644.4 L132.0,643.4 L133.2,642.7 L134.4,643.0 L135.6,643.2 L136.8,643.6 L138.0,644.0 L139.2,643.9 L140.4,643.8 L141.6,643.7 L142.8,643.6 L144.0,643.3 L145.2,643.5 L146.4,643.2 L147.6,643.0 L148.8,644.3 L150.0,644.4 L151.2,645.2 L152.4,645.1 L153.6,643.1 L154.8,640.4 L156.0,638.3 L157.2,637.9 L158.4,638.0 L159.6,638.2 L160.8,637.9 L162.0,638.1 L163.2,637.6 L164.4,638.0 L165.6,635.3 L166.8,634.1 L168.0,632.3 L169.2,629.1 L170.4,627.0 L171.6,625.6 L172.8,623.1 L174.0,620.5 L175.2,618.8 L176.4,617.1 L177.6,615.9 L178.8,615.7 L180.0,616.2 L181.2,617.3 L182.4,617.8 L183.6,617.8 L184.8,617.2 L186.0,614.1 L187.2,613.2 L188.4,611.4 L189.6,609.2 L190.8,608.5 L192.0,608.2 L193.2,607.9 L194.4,607.8 L195.6,607.6 L196.8,607.6 L198.0,608.6 L199.2,607.6 L200.4,608.0 L201.6,608.8 L202.8,608.8 L204.0,609.5 L205.2,608.6 L206.4,609.0 L207.6,608.8 L208.8,609.1 L210.0,609.1 L211.2,608.5 L212.4,608.7 L213.6,608.2 L214.8,606.9 L216.0,605.1 L217.2,603.0 L218.4,600.0 L219.6,598.2 L220.8,595.7 L222.0,593.3 L223.2,591.9 L224.4,588.8 L225.6,587.4 L226.8,588.1 L228.0,587.6 L229.2,587.4 L230.4,587.8 L231.6,587.8 L232.8,587.3 L234.0,586.5 L235.2,586.6 L236.4,586.9 L237.6,586.6 L238.8,586.1 L240.0,585.0 L241.2,584.7 L242.4,582.9 L243.6,581.0 L244.8,580.6 L246.0,579.6 L247.2,579.9 L248.4,578.0 L249.6,576.1 L250.8,574.1 L252.0,573.1 L253.2,573.1 L254.4,572.4 L255.6,571.4 L256.8,572.3 L258.0,572.2 L259.2,573.2 L260.4,573.5 L261.6,574.3 L262.8,573.6 L264.0,570.8 L265.2,568.2 L266.4,566.1 L267.6,565.4 L268.8,564.6 L270.0,563.1 L271.2,562.1 L272.4,561.6 L273.6,559.3 L274.8,557.9 L276.0,556.2 L277.2,555.7 L278.4,555.4 L279.6,554.7 L280.8,554.3 L282.0,552.0 L283.2,550.1 L284.4,548.4 L285.6,548.7 L286.8,548.2 L288.0,548.3 L289.2,548.5 L290.4,548.0 L291.6,548.3 L292.8,548.0 L294.0,547.9 L295.2,547.7 L296.4,547.5 L297.6,548.1 L298.8,548.3 L300.0,548.1 L301.2,548.6 L302.4,547.3 L303.6,547.4 L304.8,547.0 L306.0,545.8 L307.2,544.4 L308.4,543.1 L309.6,543.2 L310.8,542.8 L312.0,543.5 L313.2,543.1 L314.4,540.4 L315.6,539.0 L316.8,537.7 L318.0,536.6 L319.2,536.9 L320.4,537.2 L321.6,536.7 L322.8,536.6 L324.0,537.2 L325.2,537.4 L326.4,536.1 L327.6,534.0 L328.8,531.9 L330.0,530.8 L331.2,531.2 L332.4,530.9 L333.6,528.7 L334.8,526.6 L336.0,524.0 L337.2,523.9 L338.4,523.3 L339.6,524.2 L340.8,524.3 L342.0,525.7 L343.2,524.3 L344.4,524.2 L345.6,525.0 L346.8,524.7 L348.0,525.1 L349.2,524.8 L350.4,525.0 L351.6,525.2 L352.8,524.9 L354.0,525.2 L355.2,525.0 L356.4,525.6 L357.6,525.5 L358.8,525.6 L360.0,525.9 L361.2,525.2 L362.4,525.6 L363.6,524.1 L364.8,521.5 L366.0,519.0 L367.2,519.5 L368.4,518.9 L369.6,519.0 L370.8,518.4 L372.0,519.1 L373.2,519.0 L374.4,519.1 L375.6,518.2 L376.8,518.7 L378.0,518.8 L379.2,519.3 L380.4,518.7 L381.6,518.5 L382.8,517.3 L384.0,516.3 L385.2,515.0 L386.4,514.9 L387.6,513.1 L388.8,512.9 L390.0,512.2 L391.2,512.6 L392.4,512.1 L393.6,512.2 L394.8,512.3 L396.0,512.6 L397.2,512.0 L398.4,512.4 L399.6,512.6 L400.8,512.8 L402.0,513.0 L403.2,513.1 L404.4,512.6 L405.6,512.9 L406.8,511.2 L408.0,509.3 L409.2,507.4 L410.4,505.2 L411.6,504.5 L412.8,502.3 L414.0,501.3 L415.2,499.9 L416.4,499.7 L417.6,500.4 L418.8,499.6 L420.0,500.1 L421.2,499.6 L422.4,499.5 L423.6,500.0 L424.8,500.6 L426.0,499.7 L427.2,497.8 L428.4,495.3 L429.6,493.8 L430.8,493.4 L432.0,492.7 L433.2,492.6 L434.4,493.0 L435.6,491.9 L436.8,487.1 L438.0,482.6 L439.2,480.2 L440.4,478.5 L441.6,475.8 L442.8,473.7 L444.0,473.2 L445.2,472.8 L446.4,472.4 L447.6,471.9 L448.8,472.3 L450.0,472.1 L451.2,472.7 L452.4,473.4 L453.6,473.2 L454.8,474.0 L456.0,472.9 L457.2,473.1 L458.4,473.3 L459.6,472.9 L460.8,472.1 L462.0,472.6 L463.2,472.5 L464.4,472.3 L465.6,473.5 L466.8,473.0 L468.0,471.7 L469.2,470.3 L470.4,468.6 L471.6,467.6 L472.8,466.8 L474.0,466.6 L475.2,466.7 L476.4,466.6 L477.6,465.6 L478.8,462.1 L480.0,459.6 L481.2,459.3 L482.4,459.0 L483.6,458.2 L484.8,458.8 L486.0,457.0 L487.2,454.1 L488.4,451.8 L489.6,450.2 L490.8,449.7 L492.0,446.7 L493.2,445.8 L494.4,445.9 L495.6,444.8 L496.8,444.7 L498.0,444.4 L499.2,444.3 L500.4,444.7 L501.6,445.1 L502.8,444.7 L504.0,444.9 L505.2,445.2 L506.4,444.7 L507.6,444.9 L508.8,444.8 L510.0,444.3 L511.2,445.0 L512.4,442.7 L513.6,440.6 L514.8,438.2 L516.0,438.6 L517.2,438.5 L518.4,438.2 L519.6,437.5 L520.8,437.4 L522.0,437.4 L523.2,437.6 L524.4,437.2 L525.6,437.1 L526.8,438.0 L528.0,437.5 L529.2,437.5 L530.4,437.2 L531.6,437.7 L532.8,437.8 L534.0,437.7 L535.2,436.3 L536.4,433.4 L537.6,432.5 L538.8,430.3 L540.0,431.2 L541.2,431.3 L542.4,431.4 L543.6,431.8 L544.8,432.0 L546.0,431.5 L547.2,431.8 L548.4,431.0 L549.6,431.3 L550.8,431.5 L552.0,430.8 L553.2,430.9 L554.4,431.0 L555.6,430.5 L556.8,427.8 L558.0,425.3 L559.2,425.1 L560.4,424.4 L561.6,424.9 L562.8,425.0 L564.0,425.0 L565.2,424.7" fill="none" stroke="#f00a14" stroke-width="2.7" stroke-linejoin="round" stroke-linecap="round"/>
<path d="M104.4,723.6 L104.4,287.2 L565.9,287.2 L565.9,723.6 L103.7,723.6 M104.4,683.8 h5 M565.9,683.8 h-5 M104.4,644.0 h8.6 M565.9,644.0 h-8.6 M104.4,604.3 h5 M565.9,604.3 h-5 M104.4,564.5 h8.6 M565.9,564.5 h-8.6 M104.4,524.7 h5 M565.9,524.7 h-5 M104.4,484.9 h8.6 M565.9,484.9 h-8.6 M104.4,445.2 h5 M565.9,445.2 h-5 M104.4,405.4 h8.6 M565.9,405.4 h-8.6 M104.4,365.6 h5 M565.9,365.6 h-5 M104.4,325.8 h8.6 M565.9,325.8 h-8.6 M162.1,723.6 v-4.2 M162.1,287.2 v4.2 M219.8,723.6 v-8 M219.8,287.2 v8 M277.5,723.6 v-4.2 M277.5,287.2 v4.2 M335.1,723.6 v-8 M335.1,287.2 v8 M392.8,723.6 v-4.2 M392.8,287.2 v4.2 M450.5,723.6 v-8 M450.5,287.2 v8 M508.2,723.6 v-4.2 M508.2,287.2 v4.2" fill="none" stroke="#3a3a3a" stroke-width="1.4"/>
<text class="ax" x="96.4" y="333.7" text-anchor="end">100</text>
<text class="ax" x="96.4" y="413.3" text-anchor="end">0</text>
<text class="ax" x="96.4" y="492.8" text-anchor="end">−100</text>
<text class="ax" x="96.4" y="572.4" text-anchor="end">−200</text>
<text class="ax" x="96.4" y="651.9" text-anchor="end">−300</text>
<text class="ax" x="96.4" y="730.4" text-anchor="end">−400</text>
<text class="ax" x="106.6" y="741.5" text-anchor="middle">0.0</text>
<text class="ax" x="218.5" y="741.5" text-anchor="middle">0.5</text>
<text class="ax" x="333.6" y="741.5" text-anchor="middle">1.0</text>
<text class="ax" x="450.5" y="741.5" text-anchor="middle">1.5</text>
<text class="ax" x="564.2" y="741.5" text-anchor="middle">2.0</text>
<text class="lb" x="339.3" y="762.3" text-anchor="middle" style="font-size:18.2px">Time (s)</text>
<text class="lb" transform="translate(43.4,521.3) rotate(-90)" text-anchor="middle">Position (nm)</text>
<text class="lb" x="209.7" y="390.3">bead</text>
<text class="lb" x="208.6" y="560.6">trap</text>
</g>
<circle cx="465.4" cy="348" r="55.1" fill="none" stroke="#2c2c90" stroke-width="3.1"/>
<path d="M521,352.6 H657" stroke="#2c2c90" stroke-width="3" fill="none"/><path d="M665.2,352.6 l-9.3,-4.6 v9.2z" fill="#2c2c90"/>
<g id="rchart"><defs><pattern id="vs" x="666" y="0" width="6.2" height="10" patternUnits="userSpaceOnUse"><rect x="0" y="0" width="1.6" height="10" fill="#fff" fill-opacity="0.16"/><rect x="3.1" y="0" width="1" height="10" fill="#dcdcdc" fill-opacity="0.25"/></pattern><filter id="bl" x="-5%" y="-5%" width="110%" height="110%"><feGaussianBlur stdDeviation="0.45"/></filter></defs><rect x="665.8" y="284.8" width="245.7" height="272.9" fill="#f7f7f7"/><rect x="667.2" y="285.6" width="244.2" height="271.9" fill="#eeeeee"/><rect x="667.2" y="285.6" width="244.2" height="271.9" fill="url(#vs)"/><g filter="url(#bl)"><path d="M669,309.7 L905.5,308.1 M669,335.5 L905.5,334.2 M669,362 L905.5,360.5 M669,387.8 L905.5,386.25 M669,414.2 L905.5,412.7 M669,440 L905.5,438.2 M669,466.1 L905.5,464.5 M669,492 L905.5,490.3 M669,517.2 L905.5,516.4 M669,543 L905.5,541.9" stroke="#cbcbcb" stroke-width="2.4" fill="none"/><path d="M669,309.7 L905.5,308.1 M669,335.5 L905.5,334.2 M669,362 L905.5,360.5 M669,387.8 L905.5,386.25 M669,414.2 L905.5,412.7 M669,440 L905.5,438.2 M669,466.1 L905.5,464.5 M669,492 L905.5,490.3 M669,517.2 L905.5,516.4 M669,543 L905.5,541.9" stroke="#969696" stroke-width="2" stroke-dasharray="1.1 1.1" fill="none" stroke-opacity="0.5"/><path d="M667.8,309.7 h3.2 M906.4,308.1 h-3.4 M667.8,335.5 h3.2 M906.4,334.2 h-3.4 M667.8,362 h3.2 M906.4,360.5 h-3.4 M667.8,387.8 h3.2 M906.4,386.25 h-3.4 M667.8,414.2 h3.2 M906.4,412.7 h-3.4 M667.8,440 h3.2 M906.4,438.2 h-3.4 M667.8,466.1 h3.2 M906.4,464.5 h-3.4 M667.8,492 h3.2 M906.4,490.3 h-3.4 M667.8,517.2 h3.2 M906.4,516.4 h-3.4 M667.8,543 h3.2 M906.4,541.9 h-3.4" stroke="#333" stroke-width="2.2" fill="none"/><path d="M667.6,556 L667.6,290.2 L906.1,287.6 L906.4,555 Z" fill="none" stroke="#1c1c1c" stroke-width="1.7" stroke-linejoin="miter"/><path d="M667,555.9 L906.8,554.8" stroke="#1c1c1c" stroke-width="2.3" fill="none"/><path d="M667,290.3 L906.8,287.5" stroke="#1c1c1c" stroke-width="2.1" fill="none"/><path d="M676.9,290.1 v4.6 M696.4,289.9 v8.2 M716.4,289.7 v4.6 M736.25,289.5 v4.6 M756.6,289.2 v8.2 M776.5,289.0 v4.6 M796.3,288.8 v4.6 M816.2,288.6 v8.2 M836.0,288.4 v4.6 M856.2,288.1 v4.6 M876.2,287.9 v8.2 M896.1,287.7 v4.6 M697.2,555.9 v-7 M757,555.6 v-7 M816.8,555.4 v-7 M877,555.1 v-7" stroke="#1c1c1c" stroke-width="1.7" fill="none"/><path d="M669.8,556 L670.3,543.4 L671.4,526.25 L673,523.9 L674.5,527.8 L676.1,530.9 L678.4,517.7 L680.8,510.6 L683.1,525.5 L684.7,526.25 L687,515.3 L688.1,520 L689.7,496.6 L691.25,493.4 L693.3,502.8 L695.3,491.9 L698,484.8 L701.1,502.8 L703.4,489.5 L705.8,498.9 L708.1,493.4 L712,499.7 L715.2,489.5 L719.1,500.5 L722.2,488.75 L723.5,474 L724.5,459.5 L727.2,479 L729.2,466.6 L731.6,465 L734.7,472 L736.25,466.6 L737.8,474.4 L740.2,466.6 L743.3,468.1 L745.6,471.25 L748,471.25 L750.3,476 L753.4,465.8 L755,469.7 L757.3,463.4 L761.25,468.1 L765.2,458 L767.5,461.9 L770.2,456.4 L773.75,469.7 L776.1,460.3 L778.4,472 L780,462.7 L781.6,475.2 L784.7,468.1 L787,461.9 L789.1,479.8 L791.7,464.2 L796.4,479 L798.75,461.1 L801.9,471.25 L804.2,440 L807.3,439.2 L809.7,421.25 L811.25,418.1 L812.8,413.4 L813.4,400 L813.3,384.7 L814.8,381.6 L818,387.8 L820.3,382.3 L824.2,391.7 L827.3,386.25 L828.9,359.7 L830.5,355.8 L832,361.25 L833.6,354.2 L835.2,364.4 L838.3,351.9 L840.6,355 L843.4,350.3 L846.9,364.4 L850,356.6 L853.1,350.3 L856.6,365.2 L858.6,357.3 L860.2,362 L862.5,332.3 L864.8,339.4 L866.4,333.9 L867.2,338.6 L869.5,331.6 L871.6,336.25 L873.1,327.7 L875,339.4 L878.9,319 L880.9,296.4 L883.6,307.3 L885.9,301.1 L888.3,306.6 L890.6,303.4 L892.2,306.6 L895.3,294.8 L900,303.4 L903.1,298.75 L905.5,294" fill="none" stroke="#050505" stroke-width="2.45" stroke-linejoin="round" stroke-linecap="round"/></g></g>
<rect x="819.5" y="412.3" width="161.8" height="24.7" fill="#a7d9db"/><path d="M836.4,417 V432.5" stroke="#000" stroke-width="1.6"/><path d="M836.4,412.8 l-4.2,6.6 h8.4z M836.4,436.9 l-4.2,-6.6 h8.4z" fill="#000"/><text x="854.3" y="433.4" font-size="25.2" fill="#000"><tspan class="ser">1</tspan><tspan dx="5.2">monomer</tspan></text>
<g id="mt"><defs><circle id="b" r="4.9" fill="#6868f4" stroke="#02024c" stroke-width="1.15"/></defs><rect x="572" y="222" width="325" height="32" fill="#02024c"/><ellipse cx="900.2" cy="238.6" rx="5.2" ry="15.5" fill="#0b0b90"/><use href="#b" x="576.6" y="217.0"/><use href="#b" x="587.0" y="217.0"/><use href="#b" x="597.3" y="217.0"/><use href="#b" x="607.7" y="217.0"/><use href="#b" x="618.1" y="217.0"/><use href="#b" x="628.5" y="217.0"/><use href="#b" x="638.8" y="217.0"/><use href="#b" x="649.2" y="217.0"/><use href="#b" x="659.6" y="217.0"/><use href="#b" x="669.9" y="217.0"/><use href="#b" x="680.3" y="217.0"/><use href="#b" x="690.7" y="217.0"/><use href="#b" x="701.0" y="217.0"/><use href="#b" x="711.4" y="217.0"/><use href="#b" x="721.8" y="217.0"/><use href="#b" x="732.1" y="217.0"/><use href="#b" x="742.5" y="217.0"/><use href="#b" x="752.9" y="217.0"/><use href="#b" x="763.3" y="217.0"/><use href="#b" x="773.6" y="217.0"/><use href="#b" x="784.0" y="217.0"/><use href="#b" x="794.4" y="217.0"/><use href="#b" x="804.7" y="217.0"/><use href="#b" x="815.1" y="217.0"/><use href="#b" x="825.5" y="217.0"/><use href="#b" x="835.9" y="217.0"/><use href="#b" x="846.2" y="217.0"/><use href="#b" x="856.6" y="217.0"/><use href="#b" x="867.0" y="217.0"/><use href="#b" x="877.3" y="217.0"/><use href="#b" x="887.7" y="217.0"/><use href="#b" x="898.1" y="217.0"/><use href="#b" x="573.4" y="258.0"/><use href="#b" x="583.8" y="258.0"/><use href="#b" x="594.1" y="258.0"/><use href="#b" x="604.5" y="258.0"/><use href="#b" x="614.9" y="258.0"/><use href="#b" x="625.2" y="258.0"/><use href="#b" x="635.6" y="258.0"/><use href="#b" x="646.0" y="258.0"/><use href="#b" x="656.4" y="258.0"/><use href="#b" x="666.7" y="258.0"/><use href="#b" x="677.1" y="258.0"/><use href="#b" x="687.5" y="258.0"/><use href="#b" x="697.8" y="258.0"/><use href="#b" x="708.2" y="258.0"/><use href="#b" x="718.6" y="258.0"/><use href="#b" x="728.9" y="258.0"/><use href="#b" x="739.3" y="258.0"/><use href="#b" x="749.7" y="258.0"/><use href="#b" x="760.1" y="258.0"/><use href="#b" x="770.4" y="258.0"/><use href="#b" x="780.8" y="258.0"/><use href="#b" x="791.2" y="258.0"/><use href="#b" x="801.5" y="258.0"/><use href="#b" x="811.9" y="258.0"/><use href="#b" x="822.3" y="258.0"/><use href="#b" x="832.6" y="258.0"/><use href="#b" x="843.0" y="258.0"/><use href="#b" x="853.4" y="258.0"/><use href="#b" x="863.8" y="258.0"/><use href="#b" x="874.1" y="258.0"/><use href="#b" x="884.5" y="258.0"/><use href="#b" x="894.9" y="258.0"/><use href="#b" x="574.0" y="221.0"/><use href="#b" x="584.4" y="221.0"/><use href="#b" x="594.7" y="221.0"/><use href="#b" x="605.1" y="221.0"/><use href="#b" x="615.5" y="221.0"/><use href="#b" x="625.9" y="221.0"/><use href="#b" x="636.2" y="221.0"/><use href="#b" x="646.6" y="221.0"/><use href="#b" x="657.0" y="221.0"/><use href="#b" x="667.3" y="221.0"/><use href="#b" x="677.7" y="221.0"/><use href="#b" x="688.1" y="221.0"/><use href="#b" x="698.4" y="221.0"/><use href="#b" x="708.8" y="221.0"/><use href="#b" x="719.2" y="221.0"/><use href="#b" x="729.5" y="221.0"/><use href="#b" x="739.9" y="221.0"/><use href="#b" x="750.3" y="221.0"/><use href="#b" x="760.7" y="221.0"/><use href="#b" x="771.0" y="221.0"/><use href="#b" x="781.4" y="221.0"/><use href="#b" x="791.8" y="221.0"/><use href="#b" x="802.1" y="221.0"/><use href="#b" x="812.5" y="221.0"/><use href="#b" x="822.9" y="221.0"/><use href="#b" x="833.2" y="221.0"/><use href="#b" x="843.6" y="221.0"/><use href="#b" x="854.0" y="221.0"/><use href="#b" x="864.4" y="221.0"/><use href="#b" x="874.7" y="221.0"/><use href="#b" x="885.1" y="221.0"/><use href="#b" x="895.5" y="221.0"/><use href="#b" x="571.2" y="254.0"/><use href="#b" x="581.6" y="254.0"/><use href="#b" x="591.9" y="254.0"/><use href="#b" x="602.3" y="254.0"/><use href="#b" x="612.7" y="254.0"/><use href="#b" x="623.1" y="254.0"/><use href="#b" x="633.4" y="254.0"/><use href="#b" x="643.8" y="254.0"/><use href="#b" x="654.2" y="254.0"/><use href="#b" x="664.5" y="254.0"/><use href="#b" x="674.9" y="254.0"/><use href="#b" x="685.3" y="254.0"/><use href="#b" x="695.6" y="254.0"/><use href="#b" x="706.0" y="254.0"/><use href="#b" x="716.4" y="254.0"/><use href="#b" x="726.8" y="254.0"/><use href="#b" x="737.1" y="254.0"/><use href="#b" x="747.5" y="254.0"/><use href="#b" x="757.9" y="254.0"/><use href="#b" x="768.2" y="254.0"/><use href="#b" x="778.6" y="254.0"/><use href="#b" x="789.0" y="254.0"/><use href="#b" x="799.3" y="254.0"/><use href="#b" x="809.7" y="254.0"/><use href="#b" x="820.1" y="254.0"/><use href="#b" x="830.5" y="254.0"/><use href="#b" x="840.8" y="254.0"/><use href="#b" x="851.2" y="254.0"/><use href="#b" x="861.6" y="254.0"/><use href="#b" x="871.9" y="254.0"/><use href="#b" x="882.3" y="254.0"/><use href="#b" x="892.7" y="254.0"/><use href="#b" x="571.6" y="228.2"/><use href="#b" x="582.0" y="228.2"/><use href="#b" x="592.3" y="228.2"/><use href="#b" x="602.7" y="228.2"/><use href="#b" x="613.1" y="228.2"/><use href="#b" x="623.5" y="228.2"/><use href="#b" x="633.8" y="228.2"/><use href="#b" x="644.2" y="228.2"/><use href="#b" x="654.6" y="228.2"/><use href="#b" x="664.9" y="228.2"/><use href="#b" x="675.3" y="228.2"/><use href="#b" x="685.7" y="228.2"/><use href="#b" x="696.0" y="228.2"/><use href="#b" x="706.4" y="228.2"/><use href="#b" x="716.8" y="228.2"/><use href="#b" x="727.1" y="228.2"/><use href="#b" x="737.5" y="228.2"/><use href="#b" x="747.9" y="228.2"/><use href="#b" x="758.3" y="228.2"/><use href="#b" x="768.6" y="228.2"/><use href="#b" x="779.0" y="228.2"/><use href="#b" x="789.4" y="228.2"/><use href="#b" x="799.7" y="228.2"/><use href="#b" x="810.1" y="228.2"/><use href="#b" x="820.5" y="228.2"/><use href="#b" x="830.9" y="228.2"/><use href="#b" x="841.2" y="228.2"/><use href="#b" x="851.6" y="228.2"/><use href="#b" x="862.0" y="228.2"/><use href="#b" x="872.3" y="228.2"/><use href="#b" x="882.7" y="228.2"/><use href="#b" x="893.1" y="228.2"/><use href="#b" x="570.6" y="246.3"/><use href="#b" x="581.0" y="246.3"/><use href="#b" x="591.3" y="246.3"/><use href="#b" x="601.7" y="246.3"/><use href="#b" x="612.1" y="246.3"/><use href="#b" x="622.5" y="246.3"/><use href="#b" x="632.8" y="246.3"/><use href="#b" x="643.2" y="246.3"/><use href="#b" x="653.6" y="246.3"/><use href="#b" x="663.9" y="246.3"/><use href="#b" x="674.3" y="246.3"/><use href="#b" x="684.7" y="246.3"/><use href="#b" x="695.0" y="246.3"/><use href="#b" x="705.4" y="246.3"/><use href="#b" x="715.8" y="246.3"/><use href="#b" x="726.1" y="246.3"/><use href="#b" x="736.5" y="246.3"/><use href="#b" x="746.9" y="246.3"/><use href="#b" x="757.3" y="246.3"/><use href="#b" x="767.6" y="246.3"/><use href="#b" x="778.0" y="246.3"/><use href="#b" x="788.4" y="246.3"/><use href="#b" x="798.7" y="246.3"/><use href="#b" x="809.1" y="246.3"/><use href="#b" x="819.5" y="246.3"/><use href="#b" x="829.9" y="246.3"/><use href="#b" x="840.2" y="246.3"/><use href="#b" x="850.6" y="246.3"/><use href="#b" x="861.0" y="246.3"/><use href="#b" x="871.3" y="246.3"/><use href="#b" x="881.7" y="246.3"/><use href="#b" x="892.1" y="246.3"/><use href="#b" x="570.6" y="236.8"/><use href="#b" x="581.0" y="236.8"/><use href="#b" x="591.3" y="236.8"/><use href="#b" x="601.7" y="236.8"/><use href="#b" x="612.1" y="236.8"/><use href="#b" x="622.5" y="236.8"/><use href="#b" x="632.8" y="236.8"/><use href="#b" x="643.2" y="236.8"/><use href="#b" x="653.6" y="236.8"/><use href="#b" x="663.9" y="236.8"/><use href="#b" x="674.3" y="236.8"/><use href="#b" x="684.7" y="236.8"/><use href="#b" x="695.0" y="236.8"/><use href="#b" x="705.4" y="236.8"/><use href="#b" x="715.8" y="236.8"/><use href="#b" x="726.1" y="236.8"/><use href="#b" x="736.5" y="236.8"/><use href="#b" x="746.9" y="236.8"/><use href="#b" x="757.3" y="236.8"/><use href="#b" x="767.6" y="236.8"/><use href="#b" x="778.0" y="236.8"/><use href="#b" x="788.4" y="236.8"/><use href="#b" x="798.7" y="236.8"/><use href="#b" x="809.1" y="236.8"/><use href="#b" x="819.5" y="236.8"/><use href="#b" x="829.9" y="236.8"/><use href="#b" x="840.2" y="236.8"/><use href="#b" x="850.6" y="236.8"/><use href="#b" x="861.0" y="236.8"/><use href="#b" x="871.3" y="236.8"/><use href="#b" x="881.7" y="236.8"/><use href="#b" x="892.1" y="236.8"/><use href="#b" x="902.0" y="257.8"/><use href="#b" x="904.3" y="220.3"/><use href="#b" x="906.0" y="250.1"/><use href="#b" x="907.4" y="231.1"/><use href="#b" x="907.5" y="241.3"/></g>
<g id="kin2"><path d="M701.2,171 Q702,181.3 712,181 Q718,180.6 720.5,176.5 Z" fill="#d23c08"/><path d="M705.8,180.4 L727.6,197.8" stroke="#d23c08" stroke-width="2.8" fill="none"/><ellipse cx="712.4" cy="203.6" rx="9.8" ry="5.6" fill="#d23c08"/><ellipse cx="730.2" cy="207.6" rx="4.9" ry="9.6" transform="rotate(-8 730.2 207.6)" fill="#d23c08"/><path d="M722.5,201.2 L727.5,197.4" stroke="#d23c08" stroke-width="2" fill="none"/><circle cx="721.5" cy="152.6" r="25.5" fill="#5cf0f4" stroke="#061018" stroke-width="1.3"/><defs><filter id="b2" x="-20%" y="-20%" width="140%" height="140%"><feGaussianBlur stdDeviation="0.5"/></filter></defs><circle cx="723.6" cy="149.9" r="16.2" fill="#fff" filter="url(#b2)"/><circle cx="717.8" cy="152.9" r="15.9" fill="#44f7fc"/><path d="M735.8,194.7 H755" stroke="#f41818" stroke-width="3.5" fill="none"/><path d="M775.8,194.7 L753.5,189.9 V199.5Z" fill="#f41818"/></g>
<text class="ser" x="691.6" y="614.8" font-size="25.5" fill="#000">The motor protein</text><text class="ser" x="691.6" y="642.1" font-size="25.5" fill="#000">kinesin walks along</text><text class="ser" x="691.6" y="669.4" font-size="25.5" fill="#000">microtubules, one</text><text class="ser" x="691.6" y="696.8" font-size="25.5" fill="#000">tubulin subunit at a</text><text class="ser" x="691.6" y="724.2" font-size="25.5" fill="#000">time</text><text class="ser" x="691.6" y="757.5" font-size="25.5" fill="#000">using an optical trap,</text><circle cx="657" cy="606.8" r="3.3" fill="#000"/><circle cx="657" cy="750.6" r="3.3" fill="#000"/>
</svg></body></html>
